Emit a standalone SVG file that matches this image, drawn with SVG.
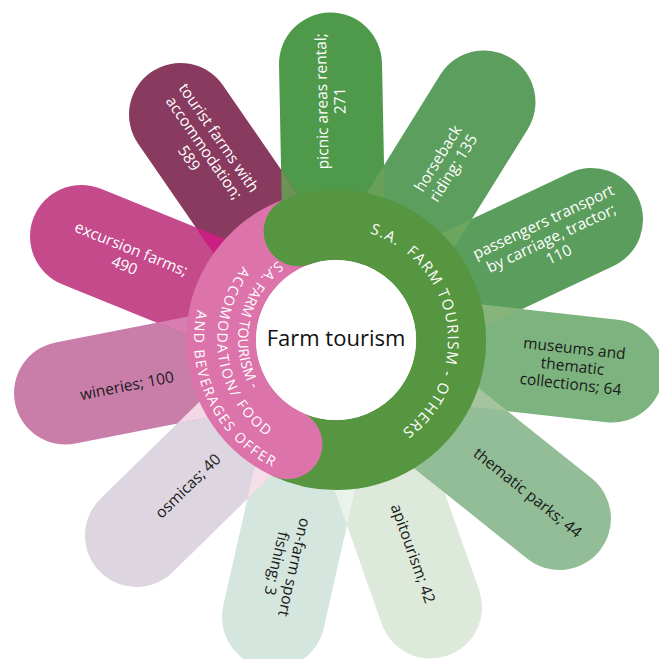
<svg xmlns="http://www.w3.org/2000/svg" xmlns:xlink="http://www.w3.org/1999/xlink" width="659" height="659" viewBox="0 0 659 659">
<style>
text{font-family:"Open Sans","Noto Sans","Liberation Sans",sans-serif;}
.lbl{font-size:15.5px;text-anchor:middle;}
.w{fill:#ffffff;}
.k{fill:#1a1a1a;}
.ring{fill:none;stroke-width:70;}
.rt{fill:#ffffff;font-size:14px;}
</style>
<defs>
<clipPath id="c1"><use href="#p1"/></clipPath>
<clipPath id="c2"><use href="#p2"/></clipPath>
<clipPath id="c3"><use href="#p3"/></clipPath>
<clipPath id="c4"><use href="#p4"/></clipPath>
<clipPath id="c6"><use href="#p6"/></clipPath>
<clipPath id="c7"><use href="#p7"/></clipPath>
<clipPath id="c8"><use href="#p8"/></clipPath>
<clipPath id="c9"><use href="#p9"/></clipPath>
<clipPath id="c10"><use href="#p10"/></clipPath>
<clipPath id="c11"><use href="#p11"/></clipPath>
<path id="tpG" d="M299.5,234.1 A112,112 0 1 1 334.0,452.0"/>
<path id="tpP1" d="M372.3,249.0 A98,98 0 1 0 333.0,438.0"/>
<path id="tpP2" d="M339.4,221.0 A119,119 0 1 0 373.5,453.0"/>
<path id="tpP3" d="M297.1,203.4 A142,142 0 1 0 419.3,455.0"/>
</defs>

<g id="petal-picnic" fill="#4f994b">
<path id="p1" d="M100,-51.5H276A51.5,51.5 0 0 1 276,51.5H100Z" transform="translate(336 340) rotate(-91.14)"/>
<g transform="translate(336 340) rotate(-91.14)"><text class="lbl w"><tspan x="239" y="-4">picnic areas rental;</tspan><tspan x="239" y="14">271</tspan></text></g>
</g>
<g id="petal-horseback" fill="#5c9e5d">
<path id="p2" d="M100,-51.5H280.3A51.5,51.5 0 0 1 280.3,51.5H100Z" transform="translate(336 340) rotate(-58.13)"/>
<g transform="translate(336 340) rotate(-58.13)"><text class="lbl w"><tspan x="208" y="-4">horseback</tspan><tspan x="208" y="14">riding; 135</tspan></text></g>
</g>
<g id="petal-passengers" fill="#5b9d5c">
<path id="p3" d="M100,-51.5H282.5A51.5,51.5 0 0 1 282.5,51.5H100Z" transform="translate(336 340) rotate(-25.25)"/>
<g transform="translate(336 340) rotate(-25.25)"><text class="lbl w"><tspan x="238" y="-13">passengers transport</tspan><tspan x="238" y="5">by carriage, tractor;</tspan><tspan x="238" y="23">110</tspan></text></g>
</g>
<g id="petal-museums" fill="#7db37f">
<path id="p4" d="M100,-51.5H277.7A51.5,51.5 0 0 1 277.7,51.5H100Z" transform="translate(336 340) rotate(6.41)"/>
<g transform="translate(336 340) rotate(6.41)"><text class="lbl k"><tspan x="238" y="-13">museums and</tspan><tspan x="238" y="5">thematic</tspan><tspan x="238" y="23">collections; 64</tspan></text></g>
</g>
<g id="petal-apitourism" fill="#dde9da">
<path id="p6" d="M100,-51.5H283.2A51.5,51.5 0 0 1 283.2,51.5H100Z" transform="translate(336 340) rotate(70.51)"/>
<g transform="translate(336 340) rotate(70.51)"><text class="lbl k"><tspan x="227" y="4">apitourism; 42</tspan></text></g>
</g>
<g id="petal-thematic" fill="#92bd97">
<path id="p5" d="M100,-51.5H286A51.5,51.5 0 0 1 286,51.5H100Z" transform="translate(336 340) rotate(38.62)"/>
<g transform="translate(336 340) rotate(38.62)"><text class="lbl k"><tspan x="245" y="5">thematic parks; 44</tspan></text></g>
</g>
<g id="petal-fishing" fill="#d4e6de">
<path id="p7" d="M100,-51.5H284A51.5,51.5 0 0 1 284,51.5H100Z" transform="translate(336 340) rotate(102.71)"/>
<g transform="translate(336 340) rotate(102.71)"><text class="lbl k"><tspan x="231" y="-4">on-farm sport</tspan><tspan x="231" y="14">fishing; 3</tspan></text></g>
</g>
<g id="petal-osmicas" fill="#ddd5df">
<path id="p8" d="M100,-51.5H279.3A51.5,51.5 0 0 1 279.3,51.5H100Z" transform="translate(336 340) rotate(135.58)"/>
<g transform="translate(336 340) rotate(135.58)"><text class="lbl k" transform="rotate(180 208 0)"><tspan x="208" y="6">osmicas; 40</tspan></text></g>
</g>
<g id="petal-wineries" fill="#c97eaa">
<path id="p9" d="M100,-51.5H275.6A51.5,51.5 0 0 1 275.6,51.5H100Z" transform="translate(336 340) rotate(168.91)"/>
<g transform="translate(336 340) rotate(168.91)"><text class="lbl k" transform="rotate(180 214 0)"><tspan x="214" y="10">wineries; 100</tspan></text></g>
</g>
<g id="petal-excursion" fill="#c54a8c">
<path id="p10" d="M100,-51.5H274.7A51.5,51.5 0 0 1 274.7,51.5H100Z" transform="translate(336 340) rotate(202.13)"/>
<g transform="translate(336 340) rotate(202.13)"><text class="lbl w" transform="rotate(180 224 0)"><tspan x="224" y="-2">excursion farms;</tspan><tspan x="224" y="16">490</tspan></text></g>
</g>
<g id="petal-tourist" fill="#883a5f">
<path id="p11" d="M100,-51.5H273.9A51.5,51.5 0 0 1 273.9,51.5H100Z" transform="translate(336 340) rotate(235.41)"/>
<g transform="translate(336 340) rotate(235.41)"><text class="lbl w" transform="rotate(180 233 0)"><tspan x="233" y="-13">tourist farms with</tspan><tspan x="233" y="5">accommodation;</tspan><tspan x="233" y="23">589</tspan></text></g>
</g>

<g id="overlaps">
<use href="#p2" clip-path="url(#c1)" fill="#68a05a"/>
<use href="#p3" clip-path="url(#c2)" fill="#6da75f"/>
<use href="#p4" clip-path="url(#c3)" fill="#86b47b"/>
<use href="#p5" clip-path="url(#c4)" fill="#a4c39f"/>
<use href="#p7" clip-path="url(#c6)" fill="#e9f3ea"/>
<use href="#p8" clip-path="url(#c7)" fill="#f5dfe8"/>
<use href="#p9" clip-path="url(#c8)" fill="#f3d7e6"/>
<use href="#p10" clip-path="url(#c9)" fill="#d77db1"/>
<use href="#p11" clip-path="url(#c10)" fill="#cb2081"/>
<use href="#p1" clip-path="url(#c11)" fill="#6b9355"/>
</g>

<g id="ring-accommodation">
<path class="ring" stroke="#dc74ab" d="M287.4,444.2 A115,115 0 0 1 298.6,231.3"/>
</g>
<g id="ring-others">
<path class="ring" stroke="#569640" d="M298.6,231.3 A115,115 0 1 1 287.4,444.2"/>
<circle cx="298.6" cy="231.3" r="35" fill="#569640"/>
<text xml:space="preserve" style="font-size:15px;letter-spacing:1.3px;fill:#ffffff"><textPath href="#tpG" startOffset="50%" text-anchor="middle">S.A.  FARM TOURISM - OTHERS</textPath></text>
</g>
<g id="ring-accommodation-cap">
<circle cx="287.4" cy="444.2" r="35" fill="#dc74ab"/>
<text class="rt" style="letter-spacing:0.3px"><textPath href="#tpP1" startOffset="50%" text-anchor="middle">S.A. FARM TOURISM -</textPath></text>
<text class="rt" style="letter-spacing:1.8px"><textPath href="#tpP2" startOffset="50%" text-anchor="middle">ACCOMODATION/ FOOD</textPath></text>
<text class="rt" style="letter-spacing:1.8px"><textPath href="#tpP3" startOffset="50%" text-anchor="middle">AND BEVERAGES OFFER</textPath></text>
</g>
<g id="center">
<circle cx="336" cy="340" r="80" fill="#ffffff"/>
<text x="336" y="346" style="font-size:22px;text-anchor:middle;fill:#111111">Farm tourism</text>
</g>
</svg>
